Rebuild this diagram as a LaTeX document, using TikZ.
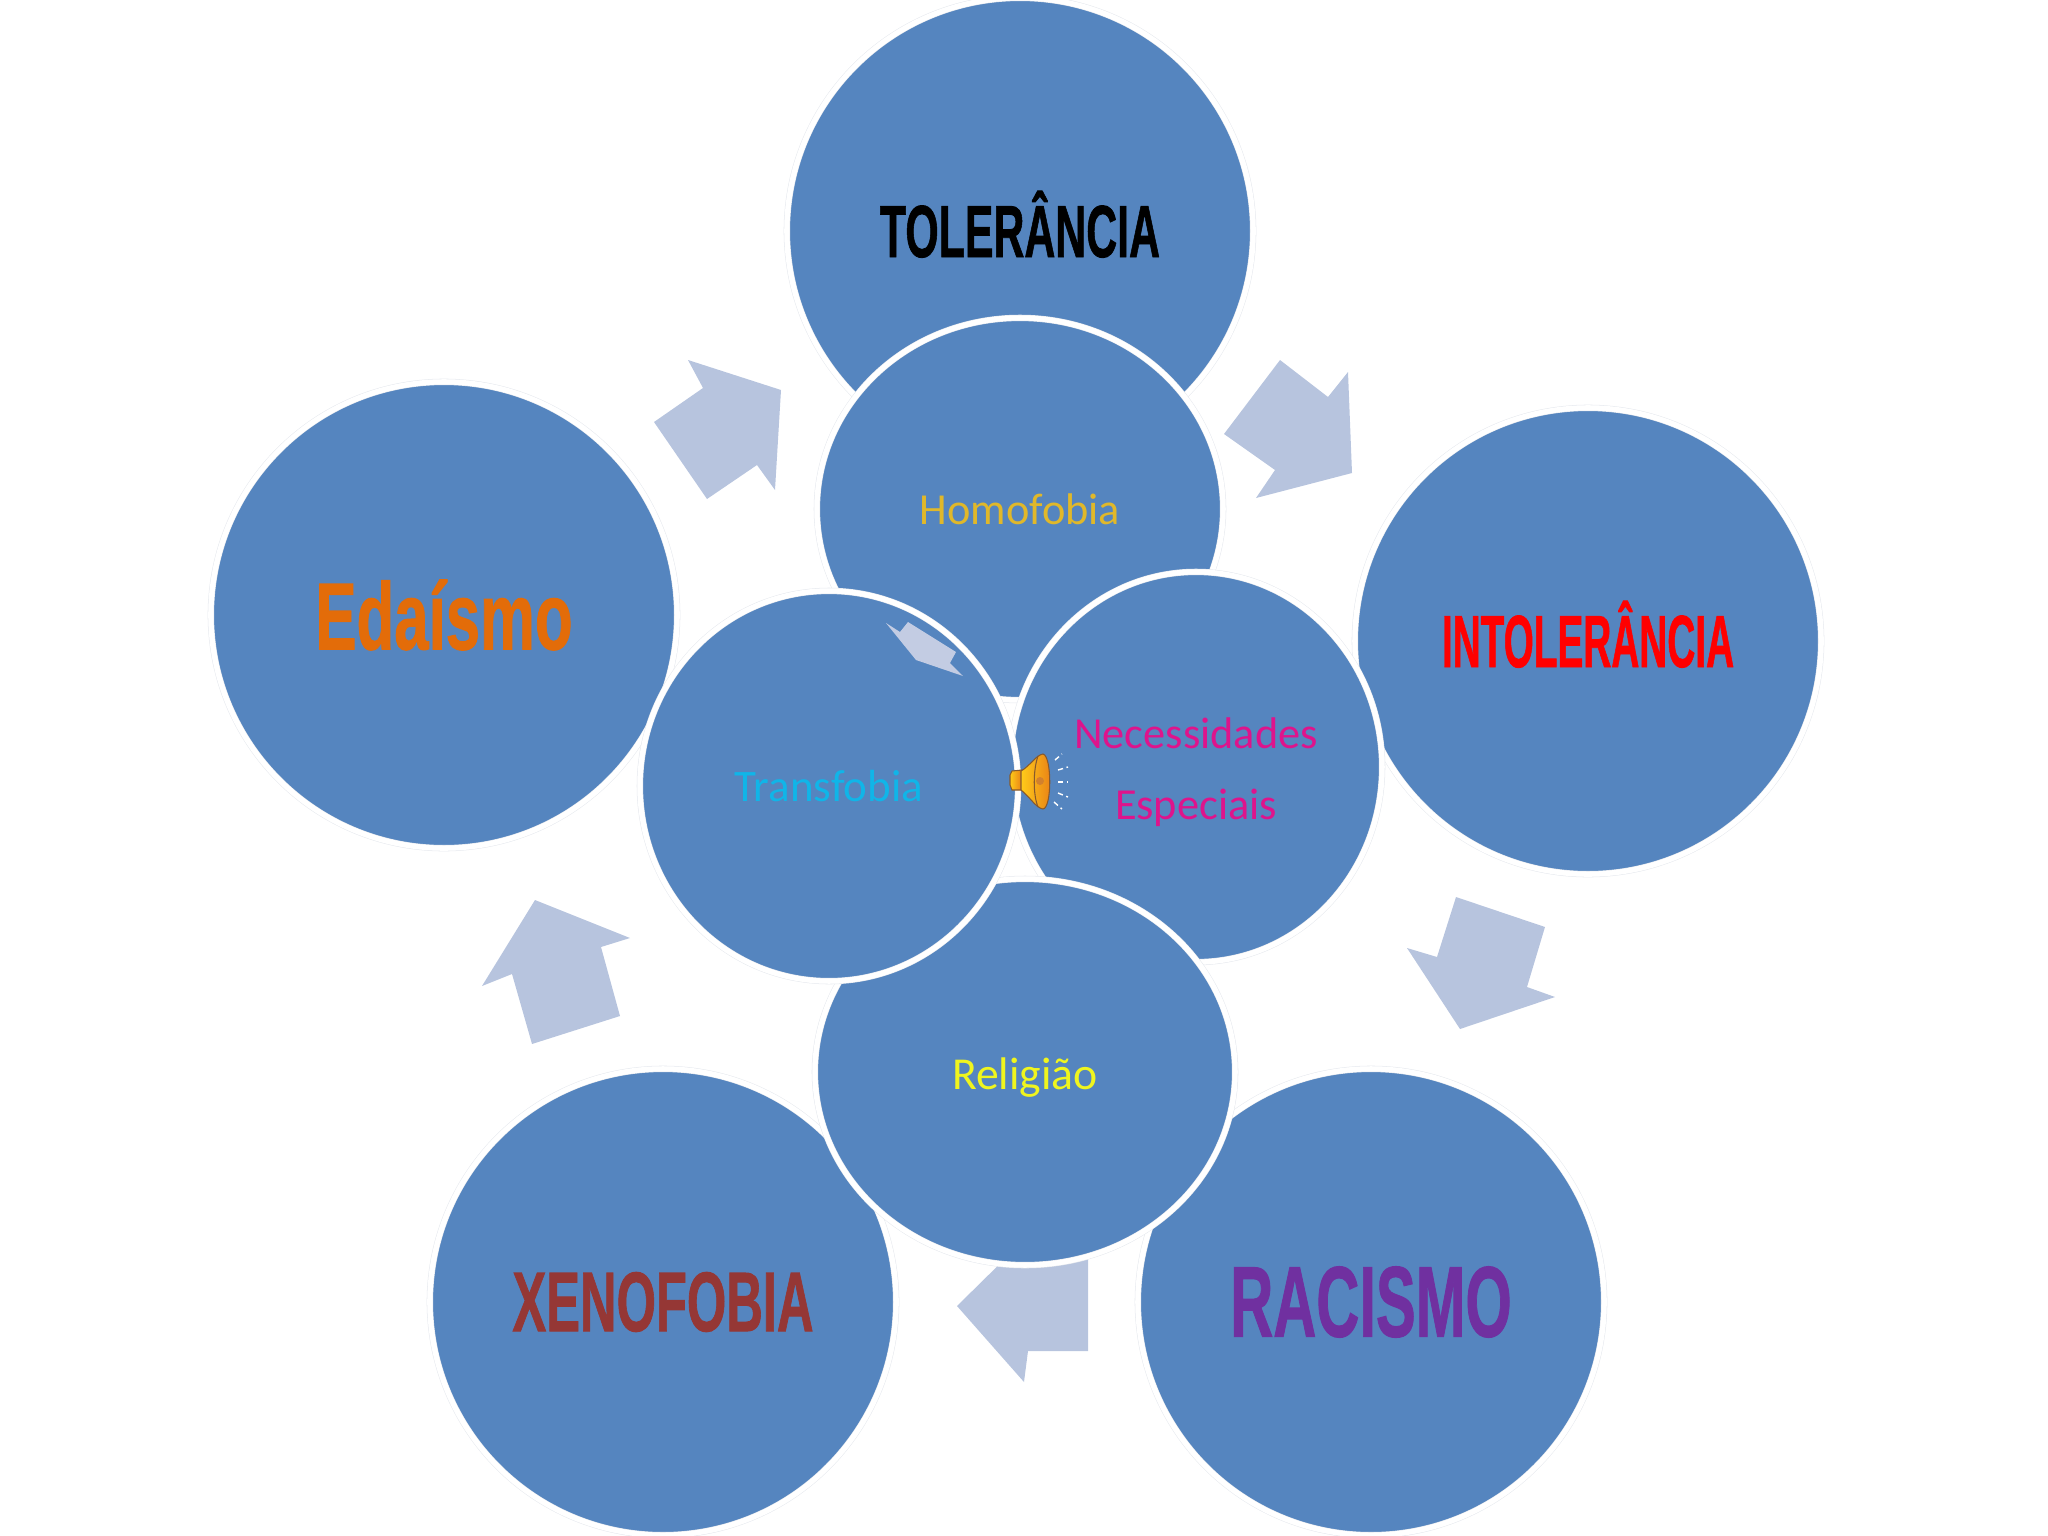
\documentclass[tikz,border=0pt]{standalone}
\usepackage{fontspec}
\usepackage{tikz}
\usetikzlibrary{shapes.geometric}
\setmainfont{Carlito}
\newfontfamily\titlefont[FakeBold=1.2]{Liberation Sans Bold}
\newcommand{\estreito}[2]{\scalebox{#1}[1]{\titlefont #2}}
\definecolor{azul}{HTML}{5585BF}
\definecolor{seta}{HTML}{B7C4DE}
\definecolor{borda}{HTML}{E6E9EE}
\begin{document}
\begin{tikzpicture}[
    x=0.01cm, y=-0.01cm,
    circ/.style={draw=borda, line width=0.15pt, double=white, double distance=1.5pt, fill=azul, inner sep=0pt, outer sep=0pt, align=center},
    big/.style={circ, circle, minimum size=4.66cm},
    small/.style={circ, ellipse, font=\fontsize{12.6}{20}\selectfont},
    acento/.style={text height=0.52cm, text depth=0pt},
    setaf/.style={fill=seta, draw=none},
    ouro/.style={draw=#1, line width=0.3pt, left color=yellow!55!orange!90!white, right color=orange!65!brown},
    raio/.style={white, line width=0.4pt, dash pattern=on 1.5pt off 1pt},
]
\useasboundingbox (0,0) rectangle (2048,1536);
% Arrows between the big circles
\fill[setaf] (688,360) -- (781,390) -- (775,490) -- (757,465) -- (707,499) -- (654,422) -- (703,388) -- cycle;
\fill[setaf] (1280,360) -- (1328,397) -- (1348,372) -- (1352,473) -- (1256,498) -- (1275,470) -- (1224,434) -- cycle;
\fill[setaf] (1456,897) -- (1545,927) -- (1527,987) -- (1555,997) -- (1460,1029) -- (1407,948) -- (1437,957) -- cycle;
\fill[setaf] (1088,1250) -- (1088,1351) -- (1028,1351) -- (1024,1382) -- (957,1306) -- (1024,1240) -- cycle;
\fill[setaf] (535,900) -- (630,938) -- (601,947) -- (620,1016) -- (532,1044) -- (512,974) -- (482,986) -- cycle;
% Big circles
\node[big, acento, text=black, font=\fontsize{21}{25}\selectfont] (tolerancia) at (1020,231) {\estreito{.58}{TOLERÂNCIA}};
\node[big, acento, text=red, font=\fontsize{21}{25}\selectfont] (intolerancia) at (1588,641) {\estreito{.525}{INTOLERÂNCIA}};
\node[big, text={rgb,255:red,112;green,48;blue,160}, font=\fontsize{28.5}{34}\selectfont] (racismo) at (1371,1302) {\estreito{.595}{RACISMO}};
\node[big, text={rgb,255:red,149;green,55;blue,53}, font=\fontsize{24}{29}\selectfont] (xenofobia) at (663,1302) {\estreito{.6}{XENOFOBIA}};
\node[big, text={rgb,255:red,227;green,108;blue,9}, font=\fontsize{27}{32}\selectfont] (edaismo) at (444,615) {\estreito{.65}{Edaísmo}};
% Inner ellipses
\node[small, minimum width=4.06cm, minimum height=3.82cm, text={rgb,255:red,224;green,184;blue,42}] (homofobia) at (1020,509) {Homofobia};
\node[small, minimum width=3.72cm, minimum height=3.9cm, text={rgb,255:red,222;green,20;blue,140}] (necessidades) at (1196,767) {\rule{0pt}{0.41cm}Necessidades\\Especiais};
\node[small, minimum width=4.2cm, minimum height=3.86cm, text={rgb,255:red,240;green,245;blue,30}, font=\fontsize{13}{20}\selectfont] (religiao) at (1025,1072) {\rule{0pt}{0.42cm}Religião};
\node[small, minimum width=3.78cm, minimum height=3.9cm, text={rgb,255:red,16;green,181;blue,232}, font=\fontsize{12.8}{20}\selectfont] (transfobia) at (829,786) {Transfobia};
% Small arrow inside Transfobia
\fill[fill={rgb,255:red,195;green,204;blue,227}] (886,623) -- (900,632) -- (908,622) -- (956,652) -- (950,663) -- (963,676) -- (916,660) -- cycle;
% Speaker
\draw[ouro=brown!70!black] (1012,771) -- (1022,770) -- (1022,790) -- (1012,790) -- (1010,785) -- (1010,775) -- cycle;
\draw[ouro=brown!70!black] (1021,771) .. controls (1030,766) and (1036,755) .. (1043,754) .. controls (1052,756) and (1052,808) .. (1043,809) .. controls (1036,808) and (1030,797) .. (1021,790) -- cycle;
\draw[brown!70!black, line width=0.3pt] (1038,756) .. controls (1033,770) and (1033,795) .. (1038,807);
\fill[brown!70!orange] (1040,781) circle (4);
\draw[raio] (1055,760) -- (1062,754);
\draw[raio] (1058,770) -- (1068,767);
\draw[raio] (1058,782) -- (1068,782);
\draw[raio] (1058,793) -- (1068,797);
\draw[raio] (1054,802) -- (1062,809);
\end{tikzpicture}
\end{document}
